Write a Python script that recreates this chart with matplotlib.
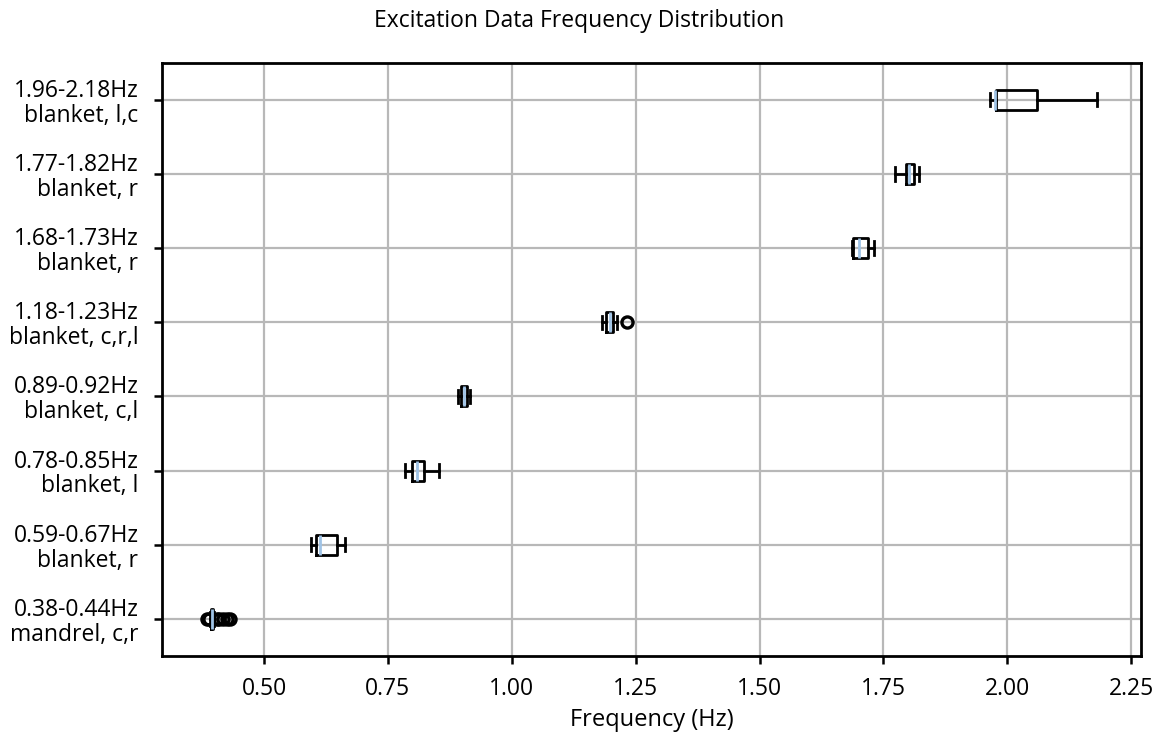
import matplotlib
matplotlib.use("Agg")
import matplotlib.pyplot as plt

plt.rcParams['font.family'] = ['Open Sans', 'DejaVu Sans']

labels = ["0.38-0.44Hz\nmandrel, c,r", "0.59-0.67Hz\nblanket, r", "0.78-0.85Hz\nblanket, l",
          "0.89-0.92Hz\nblanket, c,l", "1.18-1.23Hz\nblanket, c,r,l", "1.68-1.73Hz\nblanket, r",
          "1.77-1.82Hz\nblanket, r", "1.96-2.18Hz\nblanket, l,c"]
whislo = [0.392, 0.594, 0.784, 0.891, 1.183, 1.686, 1.774, 1.965]
q1 = [0.394, 0.604, 0.799, 0.898, 1.190, 1.689, 1.795, 1.977]
med = [0.396, 0.613, 0.809, 0.903, 1.198, 1.701, 1.802, 1.975]
q3 = [0.398, 0.648, 0.823, 0.909, 1.204, 1.718, 1.812, 2.060]
whishi = [0.400, 0.663, 0.853, 0.916, 1.212, 1.731, 1.821, 2.180]
fliers = [[0.384, 0.388, 0.405, 0.410, 0.418, 0.425, 0.432], [], [], [], [1.233], [], [], []]

stats = []
for i in range(len(labels)):
    stats.append(dict(whislo=whislo[i], q1=q1[i], med=med[i], q3=q3[i],
                      whishi=whishi[i], fliers=fliers[i], label=labels[i]))

fig = plt.figure(figsize=(11.59, 7.36), dpi=100)
ax = fig.add_axes([0.1398, 0.1087, 0.9845 - 0.1398, 0.9148 - 0.1087])

ax.bxp(stats, vert=False, widths=0.27, capwidths=0.18,
       boxprops=dict(color='black', linewidth=2.0),
       whiskerprops=dict(color='black', linewidth=2.0),
       capprops=dict(color='black', linewidth=2.0),
       medianprops=dict(color='#9fc3e6', linewidth=2.0),
       flierprops=dict(marker='o', markerfacecolor='none', markeredgecolor='black',
                       markersize=8, markeredgewidth=2.4))

ax.set_ylim(0.5, 8.5)
ax.grid(True, color='#b8b8b8', linewidth=1.6)
ax.set_axisbelow(True)
for s in ax.spines.values():
    s.set_linewidth(2)
ax.tick_params(axis='both', width=1.8, length=6)
ax.tick_params(axis='x', labelsize=16.5, pad=9)
ax.tick_params(axis='y', labelsize=16.5, pad=11)
for t in ax.get_yticklabels():
    t.set_linespacing(1.05)
ax.set_xticks([0.5, 0.75, 1.0, 1.25, 1.5, 1.75, 2.0, 2.25])
ax.set_xticklabels(["0.50", "0.75", "1.00", "1.25", "1.50", "1.75", "2.00", "2.25"])
ax.set_xlabel("Frequency (Hz)", fontsize=17, labelpad=5)
fig.suptitle("Excitation Data Frequency Distribution", fontsize=16.5, y=0.988)

fig.savefig("out.png", dpi=100)
